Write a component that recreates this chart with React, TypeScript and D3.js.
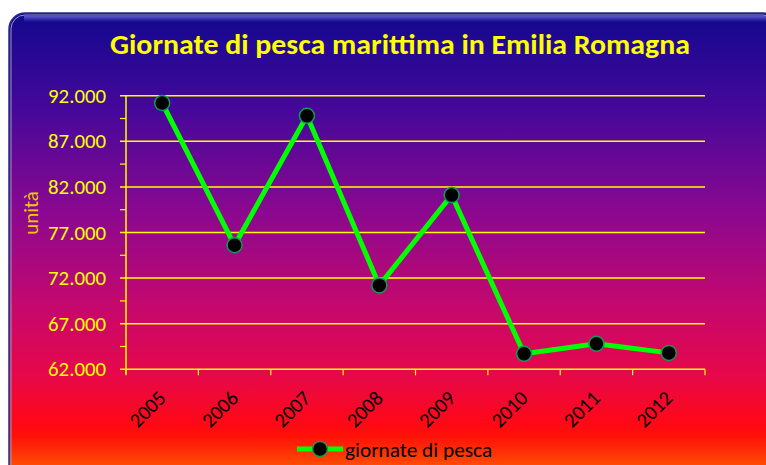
import React from "react";
import * as d3 from "d3";

const categories = ["2005", "2006", "2007", "2008", "2009", "2010", "2011", "2012"];
const values = [91200, 75600, 89800, 71200, 81100, 63700, 64800, 63800];
const yTicks = [62000, 67000, 72000, 77000, 82000, 87000, 92000];
const title = "Giornate di pesca marittima in Emilia Romagna";
const yTitle = "unità";
const seriesName = "giornate di pesca";

const W = 766;
const H = 465;
const left = 126;
const right = 705;
const top = 95.7;
const bottom = 369.3;

const fmt = (v: number) => d3.format(",")(v).replace(/,/g, ".");

export default function App() {
  const x = d3.scaleBand<string>().domain(categories).range([left, right]);
  const y = d3.scaleLinear().domain([62000, 92000]).range([bottom, top]);
  const minor = d3.range(64500, 92000, 5000);
  const line = d3
    .line<number>()
    .x((_, i) => (x(categories[i]) as number) + x.bandwidth() / 2)
    .y((d) => y(d));
  const font = "Carlito, 'Open Sans', sans-serif";
  return (
    <svg
      width={W}
      height={H}
      style={{ position: "absolute", left: 0, top: 0 }}
      fontFamily={font}
    >
      <defs>
        <linearGradient id="bg" x1="0" y1="0" x2="0" y2="1" gradientUnits="objectBoundingBox">
          <stop offset="0" stopColor="#12088e" />
          <stop offset="0.2" stopColor="#44089a" />
          <stop offset="0.42" stopColor="#8a0890" />
          <stop offset="0.62" stopColor="#c4086e" />
          <stop offset="0.77" stopColor="#e6084a" />
          <stop offset="0.87" stopColor="#ff0818" />
          <stop offset="0.9" stopColor="#ff1008" />
          <stop offset="1" stopColor="#ff7000" />
        </linearGradient>
        <linearGradient id="hl" x1="0" y1="0" x2="0" y2="1">
          <stop offset="0" stopColor="#6a6ad8" stopOpacity="0.8" />
          <stop offset="1" stopColor="#6a6ad8" stopOpacity="0" />
        </linearGradient>
      </defs>
      <rect x={0} y={0} width={W} height={H} fill="#ffffff" />
      <rect x={9} y={13} width={770} height={470} rx={16} ry={16} fill="url(#bg)" stroke="#2a2a8a" strokeWidth={1.5} />
      <rect x={11} y={15} width={766} height={466} rx={14} ry={14} fill="none" stroke="#9a9ab8" strokeWidth={1} />
      <rect x={24} y={16} width={745} height={6} fill="url(#hl)" />
      <text
        x={400}
        y={54}
        textAnchor="middle"
        fill="#ffff00"
        fontWeight="bold"
        fontSize={28}
        textLength={580}
        lengthAdjust="spacingAndGlyphs"
      >
        {title}
      </text>
      {yTicks.map((t) => (
        <g key={t}>
          <line x1={120} x2={right} y1={y(t)} y2={y(t)} stroke="#ffff00" strokeWidth={1.5} />
          <text x={106} y={y(t) + 7} textAnchor="end" fill="#ffff00" fontSize={20.8}>
            {fmt(t)}
          </text>
        </g>
      ))}
      {minor.map((t) => (
        <line key={t} x1={120} x2={left} y1={y(t)} y2={y(t)} stroke="#ffff00" strokeWidth={1.2} />
      ))}
      <line x1={left} x2={left} y1={top} y2={bottom + 5} stroke="#ffff00" strokeWidth={1.5} />
      {categories.map((c) => (
        <line
          key={"t" + c}
          x1={x(c) as number}
          x2={x(c) as number}
          y1={bottom}
          y2={bottom + 6}
          stroke="#ffff00"
          strokeWidth={1.2}
        />
      ))}
      <line x1={right} x2={right} y1={bottom} y2={bottom + 6} stroke="#ffff00" strokeWidth={1.2} />
      {categories.map((c) => {
        const cx = (x(c) as number) + x.bandwidth() / 2;
        return (
          <text
            key={"l" + c}
            transform={`translate(${cx + 5},${bottom + 30}) rotate(-45)`}
            textAnchor="end"
            fill="#000000"
            fontSize={20.5}
          >
            {c}
          </text>
        );
      })}
      <text
        transform={`translate(38,213) rotate(-90)`}
        textAnchor="middle"
        fill="#f0c800"
        fontSize={21}
      >
        {yTitle}
      </text>
      <path d={line(values) || ""} fill="none" stroke="#00ff00" strokeWidth={5} strokeLinejoin="round" />
      {values.map((v, i) => (
        <circle
          key={i}
          cx={(x(categories[i]) as number) + x.bandwidth() / 2}
          cy={y(v)}
          r={7.5}
          fill="#000000"
          stroke="#129a5a"
          strokeWidth={1.5}
        />
      ))}
      <line x1={297} x2={343} y1={449} y2={449} stroke="#00ff00" strokeWidth={5} />
      <circle cx={320} cy={449} r={7.5} fill="#000000" stroke="#129a5a" strokeWidth={1.5} />
      <text x={345} y={457} fill="#000000" fontSize={21.3}>
        {seriesName}
      </text>
    </svg>
  );
}
